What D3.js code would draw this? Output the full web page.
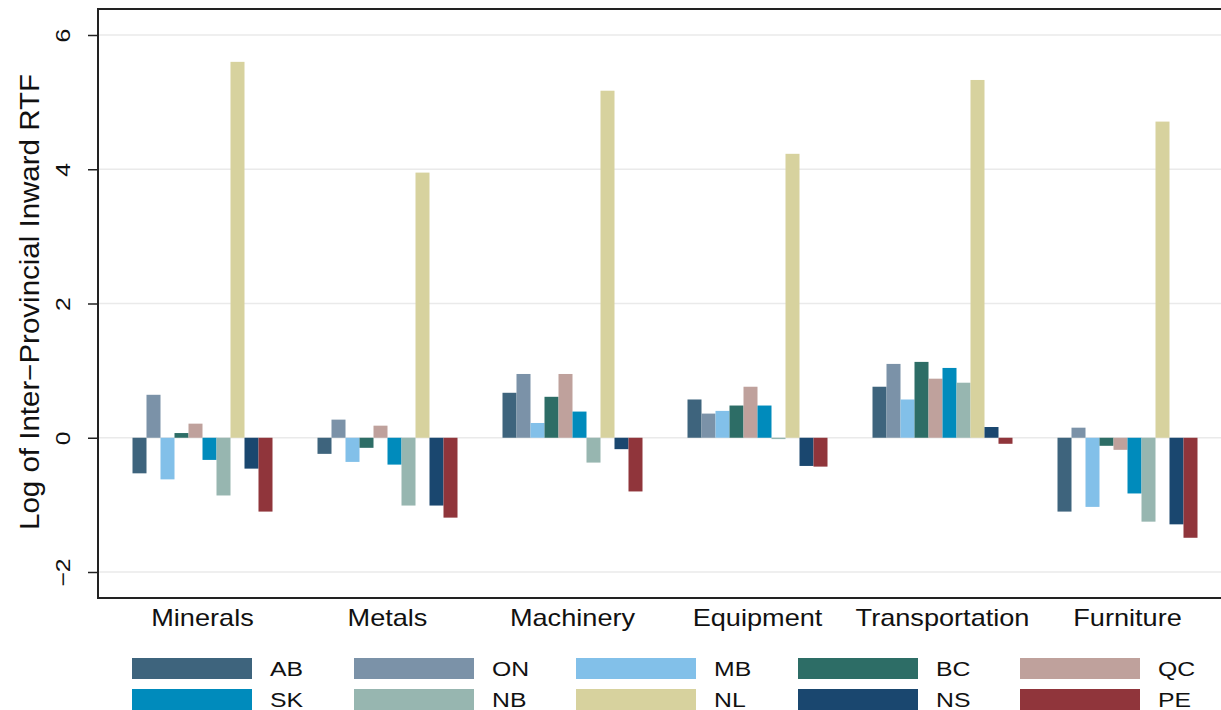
<!DOCTYPE html>
<html>
<head>
<meta charset="utf-8">
<script src="https://cdn.jsdelivr.net/npm/d3@7"></script>
<style>
  body { margin: 0; background: #fff; }
  svg { display: block; font-family: "Liberation Sans", Arial, sans-serif; }
</style>
</head>
<body>
<svg id="chart"></svg>
<script>
// 数据
const categories = ['Minerals', 'Metals', 'Machinery', 'Equipment', 'Transportation', 'Furniture'];
const provinces = ['AB', 'ON', 'MB', 'BC', 'QC', 'SK', 'NB', 'NL', 'NS', 'PE'];
const colors = ['#3e647d', '#7b92a8', '#82c0e9', '#2d6d66', '#bfa19c', '#008bbc', '#97b6b0', '#d7d29e', '#1a476f', '#90353b'];

// 每个省份在各行业的数值
const AB = [-0.53, -0.24, 0.67, 0.57, 0.76, -1.10];
const ON = [0.64, 0.27, 0.95, 0.36, 1.10, 0.15];
const MB = [-0.62, -0.36, 0.22, 0.40, 0.57, -1.03];
const BC = [0.07, -0.15, 0.61, 0.48, 1.13, -0.12];
const QC = [0.21, 0.18, 0.95, 0.76, 0.88, -0.18];
const SK = [-0.33, -0.40, 0.39, 0.48, 1.04, -0.83];
const NB = [-0.86, -1.01, -0.37, -0.02, 0.82, -1.25];
const NL = [5.60, 3.95, 5.17, 4.23, 5.33, 4.71];
const NS = [-0.46, -1.01, -0.17, -0.42, 0.16, -1.29];
const PE = [-1.10, -1.19, -0.80, -0.43, -0.09, -1.49];
const seriesValues = [AB, ON, MB, BC, QC, SK, NB, NL, NS, PE];
const yTicks = [-2, 0, 2, 4, 6];

const W = 1221, H = 710;
const plot = { left: 98, top: 9, right: 1222, bottom: 598 };
const stretch = 1.18; // 参考图的文字略宽

const svg = d3.select('#chart').attr('width', W).attr('height', H);

// 比例尺
const yScale = d3.scaleLinear().domain([-2, 6]).range([572, 35]);
const x0 = d3.scaleBand().domain(categories).range([110, 1220]).padding(0);
const groupW = 140;
const x1 = d3.scaleBand().domain(provinces).range([0, groupW]);

// 网格线
svg.append('g')
  .selectAll('line')
  .data(yTicks)
  .join('line')
  .attr('x1', plot.left)
  .attr('x2', plot.right)
  .attr('y1', (d) => yScale(d))
  .attr('y2', (d) => yScale(d))
  .attr('stroke', '#eaeaea')
  .attr('stroke-width', 1.5);

// 柱状图
const data = [];
categories.forEach((c, i) => {
  provinces.forEach((p, j) => {
    data.push({ category: c, province: p, value: seriesValues[j][i], color: colors[j] });
  });
});

svg.append('g')
  .selectAll('rect')
  .data(data)
  .join('rect')
  .attr('x', (d) => x0(d.category) + (x0.bandwidth() - groupW) / 2 + x1(d.province))
  .attr('width', x1.bandwidth())
  .attr('y', (d) => yScale(Math.max(0, d.value)))
  .attr('height', (d) => Math.abs(yScale(d.value) - yScale(0)))
  .attr('fill', (d) => d.color);

// 边框
svg.append('rect')
  .attr('x', plot.left)
  .attr('y', plot.top)
  .attr('width', plot.right - plot.left)
  .attr('height', plot.bottom - plot.top)
  .attr('fill', 'none')
  .attr('stroke', '#222')
  .attr('stroke-width', 2);

// Y轴
const yAxis = d3.axisLeft(yScale).tickValues(yTicks).tickSize(10).tickPadding(0)
  .tickFormat((d) => (d < 0 ? '\u2212' + Math.abs(d) : d));
const yg = svg.append('g').attr('transform', `translate(${plot.left},0)`).call(yAxis);
yg.select('.domain').remove();
yg.selectAll('.tick line').attr('stroke', '#222').attr('stroke-width', 1.5);
yg.selectAll('.tick text')
  .attr('x', 0)
  .attr('dy', 0)
  .attr('text-anchor', 'middle')
  .attr('transform', `translate(-28,0) rotate(-90) scale(${stretch},1)`)
  .attr('font-size', 21)
  .attr('fill', '#111')
  .attr('font-family', '"Liberation Sans", Arial, sans-serif');

// Y轴标签
svg.append('text')
  .attr('transform', 'translate(39,302) rotate(-90)')
  .attr('text-anchor', 'middle')
  .attr('font-size', 27)
  .attr('fill', '#111')
  .attr('textLength', 456)
  .attr('lengthAdjust', 'spacingAndGlyphs')
  .text('Log of Inter\u2212Provincial Inward RTF');

// X轴标签
svg.append('g')
  .selectAll('text')
  .data(categories)
  .join('text')
  .attr('transform', (d) => `translate(${x0(d) + x0.bandwidth() / 2},626) scale(${stretch},1)`)
  .attr('text-anchor', 'middle')
  .attr('font-size', 23)
  .attr('fill', '#111')
  .text((d) => d);

// 图例
const legend = svg.append('g')
  .selectAll('g')
  .data(provinces)
  .join('g')
  .attr('transform', (d, i) => `translate(${132 + (i % 5) * 222},${658 + Math.floor(i / 5) * 31})`);

legend.append('rect')
  .attr('width', 120)
  .attr('height', 21)
  .attr('fill', (d, i) => colors[i]);

legend.append('text')
  .attr('transform', `translate(138,18) scale(${stretch},1)`)
  .attr('font-size', 21)
  .attr('fill', '#111')
  .text((d) => d);
</script>
</body>
</html>
